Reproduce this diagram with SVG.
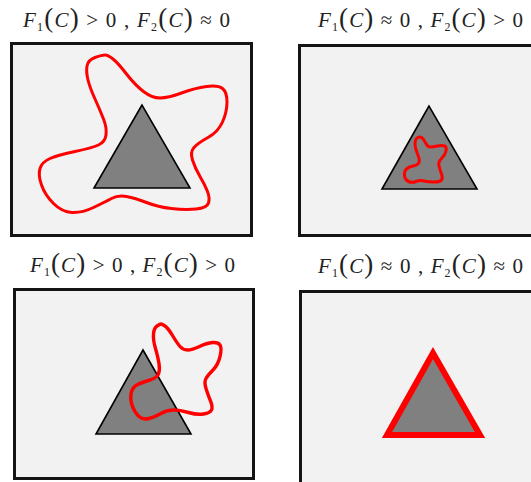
<svg xmlns="http://www.w3.org/2000/svg" width="531" height="482" viewBox="0 0 531 482">
<style>
.bg{fill:#ffffff}
.box{fill:#f2f2f2;stroke:#141414;stroke-width:3}
.tri{fill:#808080;stroke:#000;stroke-width:1.6;stroke-linejoin:miter}
.curve{fill:none;stroke:#ff0000;stroke-width:3;stroke-linejoin:round}
.t{font-family:"Liberation Serif","Times New Roman",serif;font-size:21px;fill:#222}
.i{font-style:italic}
.s{font-size:12px}
.p{font-size:27px}
</style>
<rect class="bg" x="0" y="0" width="531" height="482"/>

<g id="panel1">
  <rect class="box" x="11.5" y="43.5" width="240" height="192"/>
  <polygon class="tri" points="142,105 94,188 190,188"/>
  <path class="curve" d="M 105,55 Q 102,55 95,57.5 Q 88,60 87,66 Q 86,72 88,80 Q 90,88 95,99 Q 100,110 103.5,119 Q 107,128 106,135 Q 105,142 98.5,145 Q 92,148 75,151.5 Q 58,155 50,158.5 Q 42,162 40,168.5 Q 38,175 41.5,185 Q 45,195 53.5,203.5 Q 62,212 72,212.5 Q 82,213 93.5,207.5 Q 105,202 111.5,198.5 Q 118,195 126.5,196.5 Q 135,198 146.5,202.5 Q 158,207 171.5,208.5 Q 185,210 196,209 Q 207,208 208.5,203 Q 210,198 207.5,191.5 Q 205,185 200,176.5 Q 195,168 192.5,160 Q 190,152 194,147.5 Q 198,143 208,137.5 Q 218,132 222.5,122 Q 227,112 227,102 Q 227,92 222.5,88.5 Q 218,85 206.5,86.5 Q 195,88 181.5,93 Q 168,98 160,98 Q 152,98 143.5,91.5 Q 135,85 126.5,74 Q 118,63 113,59 Q 108,55 105,55 Z"/>
  <text class="t" x="23" y="27" textLength="207" lengthAdjust="spacing"><tspan class="i">F</tspan><tspan class="s" dy="4">1</tspan><tspan class="p" dy="-4">(</tspan><tspan class="i">C</tspan><tspan class="p">)</tspan><tspan> &gt; 0 , </tspan><tspan class="i">F</tspan><tspan class="s" dy="4">2</tspan><tspan class="p" dy="-4">(</tspan><tspan class="i">C</tspan><tspan class="p">)</tspan><tspan> ≈ 0</tspan></text>
</g>

<g id="panel2">
  <rect class="box" x="299.5" y="45.5" width="240" height="190"/>
  <polygon class="tri" points="429,106 382,189 477,189"/>
  <path class="curve" d="M 420,137 Q 418,137 416.5,138.5 Q 415,140 415,144 Q 415,148 417.5,154 Q 420,160 419,162.5 Q 418,165 413,166 Q 408,167 406,169.5 Q 404,172 404.5,176 Q 405,180 408.5,181.5 Q 412,183 416,181.5 Q 420,180 424,181 Q 428,182 434,182 Q 440,182 441.5,180 Q 443,178 441.5,174 Q 440,170 439,166 Q 438,162 441.5,158.5 Q 445,155 446,151 Q 447,147 444.5,146 Q 442,145 437.5,146 Q 433,147 430.5,147 Q 428,147 426.5,144.5 Q 425,142 423.5,139.5 Q 422,137 420,137 Z"/>
  <text class="t" x="318" y="27" textLength="205" lengthAdjust="spacing"><tspan class="i">F</tspan><tspan class="s" dy="4">1</tspan><tspan class="p" dy="-4">(</tspan><tspan class="i">C</tspan><tspan class="p">)</tspan><tspan> ≈ 0 , </tspan><tspan class="i">F</tspan><tspan class="s" dy="4">2</tspan><tspan class="p" dy="-4">(</tspan><tspan class="i">C</tspan><tspan class="p">)</tspan><tspan> &gt; 0</tspan></text>
</g>

<g id="panel3">
  <rect class="box" x="14.5" y="289.5" width="239" height="189"/>
  <polygon class="tri" points="143,350 96,434 191,434"/>
  <path class="curve" style="stroke-width:3.4" d="M 161,324 Q 160,324 157,326 Q 154,328 153.5,334 Q 153,340 155.5,348.5 Q 158,357 159,363.5 Q 160,370 158.5,374 Q 157,378 148.5,380.5 Q 140,383 136,385.5 Q 132,388 131,394 Q 130,400 132.5,406.5 Q 135,413 139,416.5 Q 143,420 149,418.5 Q 155,417 161,413.5 Q 167,410 173.5,410 Q 180,410 188.5,412.5 Q 197,415 203.5,414 Q 210,413 211.5,410 Q 213,407 210.5,401 Q 208,395 206,388.5 Q 204,382 206,378.5 Q 208,375 213,370 Q 218,365 220,356.5 Q 222,348 220,345 Q 218,342 212.5,342.5 Q 207,343 199.5,346.5 Q 192,350 187.5,350 Q 183,350 180,346.5 Q 177,343 172.5,335.5 Q 168,328 165,326 Q 162,324 161,324 Z"/>
  <text class="t" x="30" y="272" textLength="205" lengthAdjust="spacing"><tspan class="i">F</tspan><tspan class="s" dy="4">1</tspan><tspan class="p" dy="-4">(</tspan><tspan class="i">C</tspan><tspan class="p">)</tspan><tspan> &gt; 0 , </tspan><tspan class="i">F</tspan><tspan class="s" dy="4">2</tspan><tspan class="p" dy="-4">(</tspan><tspan class="i">C</tspan><tspan class="p">)</tspan><tspan> &gt; 0</tspan></text>
</g>

<g id="panel4">
  <rect class="box" x="300.5" y="291.5" width="240" height="192"/>
  <polygon points="433,353 387,435 480,435" style="fill:#808080;stroke:#ff0000;stroke-width:6;stroke-linejoin:miter"/>
  <text class="t" x="318" y="273" textLength="205" lengthAdjust="spacing"><tspan class="i">F</tspan><tspan class="s" dy="4">1</tspan><tspan class="p" dy="-4">(</tspan><tspan class="i">C</tspan><tspan class="p">)</tspan><tspan> ≈ 0 , </tspan><tspan class="i">F</tspan><tspan class="s" dy="4">2</tspan><tspan class="p" dy="-4">(</tspan><tspan class="i">C</tspan><tspan class="p">)</tspan><tspan> ≈ 0</tspan></text>
</g>
</svg>
